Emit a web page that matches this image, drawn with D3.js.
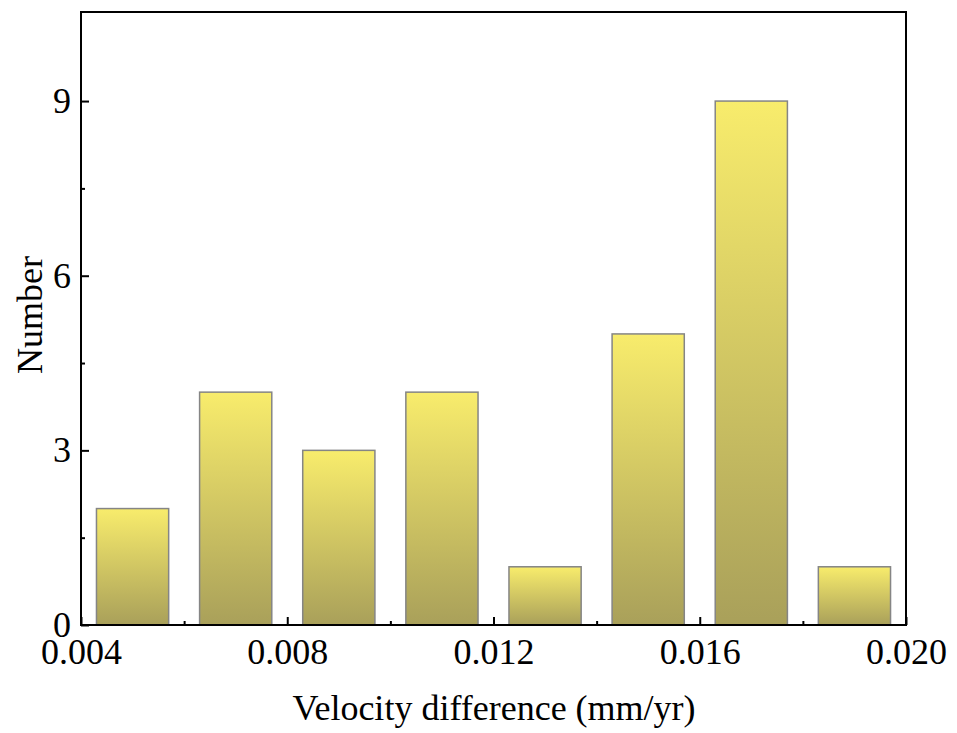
<!DOCTYPE html>
<html><head><meta charset="utf-8">
<script src="https://cdn.jsdelivr.net/npm/d3@7"></script>
<style>body{margin:0;background:#fff}svg{display:block}</style>
</head><body>
<script>
const binCenters = [0.005, 0.007, 0.009, 0.011, 0.013, 0.015, 0.017, 0.019];
const counts = [2, 4, 3, 4, 1, 5, 9, 1];
const xTicks = [0.004, 0.008, 0.012, 0.016, 0.020];
const xMinor = [0.006, 0.010, 0.014, 0.018];
const yTicks = [0, 3, 6, 9];
const yMinor = [1.5, 4.5, 7.5];
const barWidth = 0.0014;

const W = 957, H = 733;
const m = {left: 81, right: 906, top: 12, bottom: 625};
const svg = d3.select("body").append("svg").attr("width", W).attr("height", H);
const x = d3.scaleLinear().domain([0.004, 0.020]).range([m.left, m.right]);
const y = d3.scaleLinear().domain([0, 10.53]).range([m.bottom, m.top]);

const defs = svg.append("defs");
const g = defs.append("linearGradient").attr("id", "bg").attr("x1", 0).attr("y1", 0).attr("x2", 0).attr("y2", 1);
g.append("stop").attr("offset", "0%").attr("stop-color", "#f8ec6c");
g.append("stop").attr("offset", "100%").attr("stop-color", "#a9a05a");

svg.selectAll("rect.bar").data(binCenters).enter().append("rect")
  .attr("class", "bar")
  .attr("x", (d) => x(d - barWidth / 2))
  .attr("width", (d) => x(d + barWidth / 2) - x(d - barWidth / 2))
  .attr("y", (d, i) => y(counts[i]))
  .attr("height", (d, i) => y(0) - y(counts[i]))
  .attr("fill", "url(#bg)")
  .attr("stroke", "#858585")
  .attr("stroke-width", 1.5);

// frame
svg.append("rect").attr("x", m.left).attr("y", m.top)
  .attr("width", m.right - m.left).attr("height", m.bottom - m.top)
  .attr("fill", "none").attr("stroke", "#000").attr("stroke-width", 2);

const font = "'Liberation Serif', 'Times New Roman', serif";

// x axis
const xa = svg.append("g").attr("transform", `translate(0,${m.bottom})`)
  .call(d3.axisBottom(x).tickValues(xTicks).tickSize(-8).tickPadding(13).tickFormat(d3.format(".3f")));
xa.select(".domain").remove();
xa.selectAll("line").attr("stroke", "#000").attr("stroke-width", 2);
xa.selectAll("text").attr("font-family", font).attr("font-size", 36).attr("fill", "#000");
const xm = svg.append("g").attr("transform", `translate(0,${m.bottom})`)
  .call(d3.axisBottom(x).tickValues(xMinor).tickSize(-4).tickFormat(""));
xm.select(".domain").remove();
xm.selectAll("line").attr("stroke", "#000").attr("stroke-width", 2);

// y axis
const ya = svg.append("g").attr("transform", `translate(${m.left},0)`)
  .call(d3.axisLeft(y).tickValues(yTicks).tickSize(-8).tickPadding(10).tickFormat(d3.format("d")));
ya.select(".domain").remove();
ya.selectAll("line").attr("stroke", "#000").attr("stroke-width", 2);
ya.selectAll("text").attr("font-family", font).attr("font-size", 36).attr("fill", "#000");
const ym = svg.append("g").attr("transform", `translate(${m.left},0)`)
  .call(d3.axisLeft(y).tickValues(yMinor).tickSize(-4).tickFormat(""));
ym.select(".domain").remove();
ym.selectAll("line").attr("stroke", "#000").attr("stroke-width", 2);

svg.append("text").attr("x", 494).attr("y", 720)
  .attr("text-anchor", "middle").attr("font-family", font).attr("font-size", 36)
  .text("Velocity difference (mm/yr)");
svg.append("text").attr("transform", `translate(42,315) rotate(-90)`)
  .attr("text-anchor", "middle").attr("font-family", font).attr("font-size", 36)
  .text("Number");
</script>
</body></html>
